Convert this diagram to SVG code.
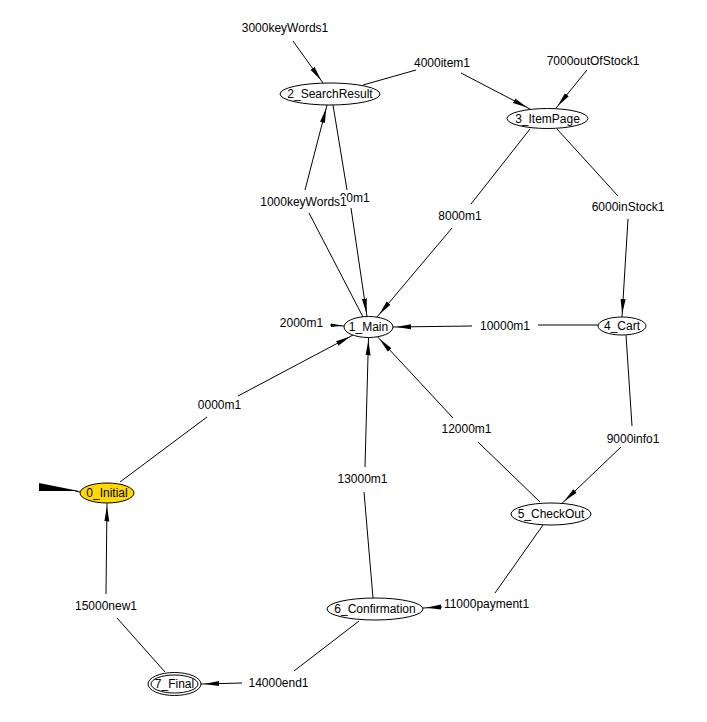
<svg xmlns="http://www.w3.org/2000/svg" width="707" height="722" viewBox="0 0 707 722">
<style>
text{font-family:"Liberation Sans",Arial,sans-serif;font-size:12px;fill:#000;text-anchor:middle}
.st{fill:#fff;stroke:#000;stroke-width:1}
.init{fill:#ffd800;stroke:#000;stroke-width:1}
#edges line{stroke:#000;stroke-width:1}
#edges line.a{marker-end:url(#arr)}
</style>
<defs>
<marker id="arr" markerUnits="userSpaceOnUse" markerWidth="20" markerHeight="6" viewBox="0 0 20 6" refX="18" refY="3" orient="auto">
<path d="M0,0.5 L15,3 L0,5.5 z" fill="#000"/>
</marker>
</defs>
<rect width="707" height="722" fill="#fff"/>
<g id="edges">
<!-- 0000m1 -->
<line x1="120" y1="482" x2="207" y2="417"/>
<line class="a" x1="238" y1="396" x2="353" y2="335"/>
<!-- 1000keyWords1 -->
<line x1="363" y1="317" x2="309" y2="213"/>
<line class="a" x1="305" y1="190" x2="327" y2="105"/>
<!-- 2000m1 -->
<line x1="330" y1="325" x2="344" y2="326"/>
<polygon points="331,323.5 343,325.8 331,327" fill="#000"/>
<!-- 3000keyWords1 -->
<line class="a" x1="293" y1="41" x2="323" y2="83"/>
<!-- 4000item1 -->
<line x1="363" y1="85" x2="416" y2="70"/>
<line class="a" x1="461" y1="73" x2="530" y2="109"/>
<!-- 5000m1 -->
<line x1="333" y1="105" x2="347" y2="190"/>
<line class="a" x1="351" y1="208" x2="367" y2="316.5"/>
<!-- 6000inStock1 -->
<line x1="557" y1="129" x2="618" y2="196"/>
<line class="a" x1="628" y1="219" x2="622" y2="317"/>
<!-- 7000outOfStock1 -->
<line class="a" x1="587" y1="70" x2="555.5" y2="108.7"/>
<!-- 8000m1 -->
<line x1="530" y1="129" x2="471" y2="204"/>
<line class="a" x1="452" y1="228" x2="377" y2="317"/>
<!-- 9000info1 -->
<line x1="626" y1="335" x2="632" y2="426"/>
<line class="a" x1="621" y1="447" x2="562" y2="503.4"/>
<!-- 10000m1 -->
<line x1="598" y1="325" x2="538" y2="325"/>
<line class="a" x1="472" y1="326" x2="393" y2="327"/>
<!-- 11000payment1 -->
<line x1="543" y1="525" x2="495" y2="593"/>
<line class="a" x1="442" y1="607" x2="423" y2="608"/>
<!-- 12000m1 -->
<line x1="540" y1="502" x2="478" y2="442"/>
<line class="a" x1="453" y1="418" x2="377.5" y2="336.8"/>
<!-- 13000m1 -->
<line x1="373" y1="598" x2="364" y2="492"/>
<line class="a" x1="365" y1="467" x2="368.5" y2="337.5"/>
<!-- 14000end1 -->
<line x1="359" y1="621" x2="294" y2="671"/>
<line class="a" x1="242" y1="683" x2="201" y2="684"/>
<!-- 15000new1 -->
<line x1="165" y1="672" x2="117" y2="618"/>
<line class="a" x1="106" y1="594" x2="107" y2="503.5"/>
<!-- initial arrow -->
<line x1="75" y1="491" x2="80" y2="492"/>
<polygon points="39,483 79,491 39,491" fill="#000"/>
</g>
<g id="labels">
<text x="285" y="32">3000keyWords1</text>
<text x="442" y="67">4000item1</text>
<text x="593" y="65">7000outOfStock1</text>
<text x="348" y="202">5000m1</text>
<path d="M256,191 H340 V196 H346.4 V209 H256 z" fill="#fff"/>
<text x="303.5" y="206">1000keyWords1</text>
<text x="460" y="220">8000m1</text>
<text x="628" y="211">6000inStock1</text>
<text x="301.5" y="327">2000m1</text>
<text x="505" y="330">10000m1</text>
<text x="219.5" y="409">0000m1</text>
<text x="466.5" y="433">12000m1</text>
<text x="633" y="443">9000info1</text>
<text x="362.5" y="483">13000m1</text>
<text x="486.5" y="608">11000payment1</text>
<text x="106" y="610">15000new1</text>
<text x="278.5" y="687">14000end1</text>
</g>
<g id="n0"><ellipse class="init" cx="107" cy="493" rx="27" ry="10"/><text x="107" y="497">0_Initial</text></g>
<g id="n1"><ellipse class="st" cx="368.5" cy="327" rx="24.5" ry="10.5"/><text x="368.5" y="331">1_Main</text></g>
<g id="n2"><ellipse class="st" cx="330" cy="94" rx="50" ry="11"/><text x="330" y="98">2_SearchResult</text></g>
<g id="n3"><ellipse class="st" cx="547.5" cy="118.5" rx="40.5" ry="10"/><text x="547.5" y="122.5">3_ItemPage</text></g>
<g id="n4"><ellipse class="st" cx="622" cy="326" rx="24" ry="9"/><text x="622" y="330">4_Cart</text></g>
<g id="n5"><ellipse class="st" cx="551" cy="514" rx="40" ry="11"/><text x="551" y="518">5_CheckOut</text></g>
<g id="n6"><ellipse class="st" cx="375" cy="609" rx="48" ry="11"/><text x="375" y="613">6_Confirmation</text></g>
<g id="n7"><ellipse class="st" cx="174.5" cy="684" rx="26.5" ry="11.5"/><ellipse fill="none" stroke="#000" cx="174.5" cy="684" rx="23.5" ry="9"/><text x="174.5" y="688">7_Final</text></g>
</svg>
